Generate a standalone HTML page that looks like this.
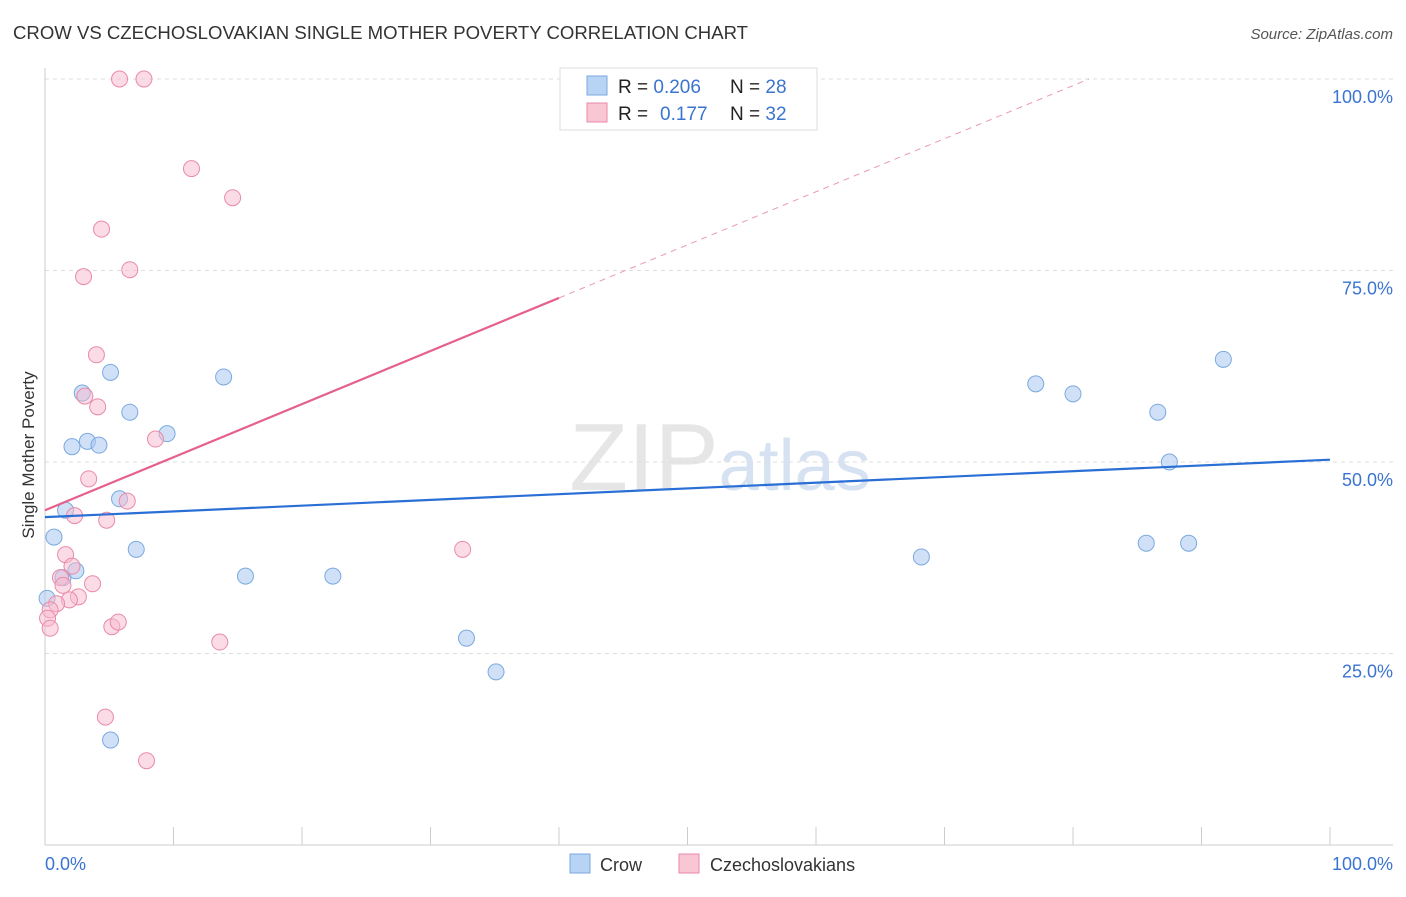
<!DOCTYPE html>
<html><head><meta charset="utf-8"><style>
body{margin:0;background:#fff;font-family:"Liberation Sans",sans-serif;}
svg text{font-family:"Liberation Sans",sans-serif;}
</style></head><body>
<svg id="chart" width="1406" height="892">
<text x="13" y="39" font-size="18" fill="#333" textLength="735" lengthAdjust="spacingAndGlyphs">CROW VS CZECHOSLOVAKIAN SINGLE MOTHER POVERTY CORRELATION CHART</text>
<text x="1393" y="39" font-size="15" fill="#555" font-style="italic" text-anchor="end">Source: ZipAtlas.com</text>
<text x="720" y="490" font-size="96" fill="#e6e6e6" text-anchor="middle" font-family="Liberation Serif">ZIP<tspan fill="#d6e2f2" font-family="Liberation Sans" font-size="72">atlas</tspan></text>
<g id="grid"></g>
<g id="marks"></g>
<text transform="translate(34,455) rotate(-90)" font-size="17" fill="#333" text-anchor="middle">Single Mother Poverty</text>
<text x="45" y="870" font-size="18" fill="#3a74d0">0.0%</text>
<text x="1393" y="870" font-size="18" fill="#3a74d0" text-anchor="end">100.0%</text>
<g>
<rect x="560" y="68" width="257" height="62" fill="#fff" stroke="#ddd"/>
<rect x="587" y="76" width="20" height="19" fill="#b8d4f5" stroke="#7aa9e0"/>
<rect x="587" y="103" width="20" height="19" fill="#f9c6d4" stroke="#e98aa8"/>
<text x="618" y="93" font-size="19" fill="#222">R = <tspan fill="#3a74d0">0.206</tspan><tspan x="730">N = </tspan><tspan fill="#3a74d0">28</tspan></text>
<text x="618" y="120" font-size="19" fill="#222">R = <tspan x="660" fill="#3a74d0">0.177</tspan><tspan x="730">N = </tspan><tspan fill="#3a74d0">32</tspan></text>
</g>
<g>
<rect x="570" y="854" width="20" height="19" fill="#b8d4f5" stroke="#7aa9e0"/>
<text x="600" y="871" font-size="18" fill="#333">Crow</text>
<rect x="679" y="854" width="20" height="19" fill="#f9c6d4" stroke="#e98aa8"/>
<text x="710" y="871" font-size="18" fill="#333">Czechoslovakians</text>
</g>
</svg>
<script>
const yTicks=[25,50,75,100];
const yTickLabels=["25.0%","50.0%","75.0%","100.0%"];
const crowX=[0.16,0.7,1.6,2.1,2.9,3.3,4.2,5.1,5.8,6.6,7.1,9.5,13.9,15.6,22.4,32.8,35.1,5.1,1.4,2.4,68.2,77.1,80.0,85.7,86.6,87.5,89.0,91.7];
const crowY=[32.2,40.2,43.7,52.0,59.0,52.7,52.2,61.7,45.2,56.5,38.6,53.7,61.1,35.1,35.1,27.0,22.6,13.7,34.9,35.8,37.6,60.2,58.9,39.4,56.5,50.0,39.4,63.4];
const czX=[5.8,7.7,11.4,14.6,4.4,3.0,6.6,4.0,3.1,4.1,8.6,3.4,6.4,2.3,4.8,1.6,2.1,1.2,1.4,3.7,2.6,1.9,0.9,0.4,0.2,0.4,5.2,5.7,13.6,32.5,4.7,7.9];
const czY=[100,100,88.3,84.5,80.4,74.2,75.1,64.0,58.6,57.2,53.0,47.8,44.9,43.0,42.4,37.9,36.4,34.9,33.9,34.1,32.4,32.0,31.5,30.7,29.6,28.3,28.5,29.1,26.5,38.6,16.7,11.0];
const crowTrend=[42.8,50.3];
const czTrend=[43.7,0.693];
const NS="http://www.w3.org/2000/svg";
const sx=v=>45+v*12.85, sy=v=>845-v*7.66;
const grid=document.getElementById('grid'), marks=document.getElementById('marks');
function mk(tag,attrs,parent){const e=document.createElementNS(NS,tag);for(const k in attrs)e.setAttribute(k,attrs[k]);parent.appendChild(e);return e;}
yTicks.forEach((t,i)=>{
 const l=mk('line',{x1:45,x2:1393,y1:sy(t),y2:sy(t),stroke:'#ddd','stroke-dasharray':'4,4'},grid);
 
 
 const tx=mk('text',{x:1393,y:sy(t)+24,'font-size':18,fill:'#3a74d0','text-anchor':'end'},grid);
 tx.textContent=yTickLabels[i];
 
 
});
mk('line',{x1:45,x2:45,y1:68,y2:845,stroke:'#ccc'},grid);
mk('line',{x1:45,x2:1393,y1:845,y2:845,stroke:'#ccc'},grid);
for(let k=1;k<=10;k++){const x=sx(k*10);mk('line',{x1:x,x2:x,y1:827,y2:845,stroke:'#ccc'},grid);}
crowX.forEach((x,i)=>{const c=mk('circle',{cx:sx(x),cy:sy(crowY[i]),r:8,fill:'rgba(170,200,240,0.55)',stroke:'#7aa9e0','stroke-width':1},marks);
 
 });
czX.forEach((x,i)=>{const c=mk('circle',{cx:sx(x),cy:sy(czY[i]),r:8,fill:'rgba(248,185,205,0.5)',stroke:'#e98aa8','stroke-width':1},marks);
 
 });
const bl=mk('line',{x1:sx(0),y1:sy(crowTrend[0]),x2:sx(100),y2:sy(crowTrend[1]),stroke:'#2a6fd6','stroke-width':2.2},marks);


const xEnd=40, xTop=(100-czTrend[0])/czTrend[1];
const pl=mk('line',{x1:sx(0),y1:sy(czTrend[0]),x2:sx(xEnd),y2:sy(czTrend[0]+czTrend[1]*xEnd),stroke:'#e5608b','stroke-width':2.2},marks);


const pd=mk('line',{x1:sx(xEnd),y1:sy(czTrend[0]+czTrend[1]*xEnd),x2:sx(xTop),y2:sy(100),stroke:'#e99ab3','stroke-width':1,'stroke-dasharray':'6,5'},marks);


</script>
</body></html>
